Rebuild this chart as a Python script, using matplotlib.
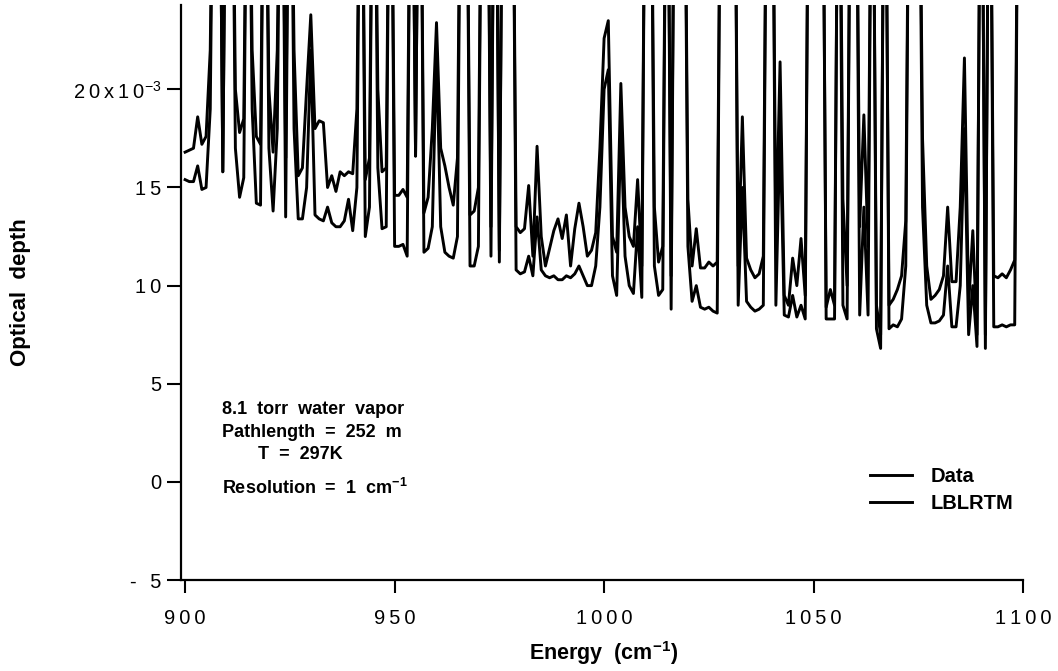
import numpy as np
import matplotlib
matplotlib.use("Agg")
import matplotlib.pyplot as plt

plt.rcParams["font.family"] = ["Liberation Sans", "DejaVu Sans"]
plt.rcParams["mathtext.fontset"] = "custom"
plt.rcParams["mathtext.rm"] = "Liberation Sans"
plt.rcParams["mathtext.bf"] = "Liberation Sans:bold"

# off-scale (saturated) lines run past the top of the plot
S = 40.0

energy = np.arange(900, 1101)  # cm-1, 1 cm-1 steps

# optical depth (x 1e-3), upper trace
data = [
    16.8, 16.9, 17.0, 18.6, 17.2, 17.6, 22.0, S, S, 15.8,
    S, S, 20.0, 17.8, 18.5, S, 22.0, 17.6, 17.2, S,
    20.0, 16.8, 22.0, S, 16.5, S, 22.0, 15.6, 16.0, 20.0,
    23.8, 18.0, 18.4, 18.3, 15.0, 15.6, 14.8, 15.8, 15.6, 15.8,
    15.7, 19.0, S, 15.4, 16.5, S, 20.0, 15.8, 16.0, S,
    14.6, 14.6, 14.9, 14.5, S, 16.6, S, 13.7, 14.5, 18.0,
    23.4, 17.0, 16.1, 15.0, 14.1, 16.5, S, S, 13.6, 13.8,
    15.0, S, S, 13.0, S, 11.8, S, S, S, 13.0,
    12.7, 12.9, 15.1, 11.5, 17.1, 12.5, 11.0, 11.9, 12.8, 13.4,
    12.4, 13.6, 11.0, 12.9, 14.2, 13.0, 11.5, 11.8, 12.7, 17.0,
    22.6, 23.5, 12.5, 11.7, 20.3, 14.0, 12.5, 12.0, 15.4, 11.0,
    S, S, 14.0, 11.2, 12.0, S, 10.5, S, S, S,
    14.4, 11.0, 12.9, 10.9, 10.9, 11.2, 11.0, 11.2, S, S,
    S, S, 11.0, 18.6, 11.4, 10.8, 10.4, 10.6, 11.5, S,
    S, 12.0, 21.4, 9.5, 9.0, 11.4, 10.0, 12.4, 9.5, S,
    S, S, S, 8.9, 9.8, 9.0, S, 14.4, 10.0, S,
    S, 13.0, 18.7, 12.0, S, 9.0, 7.5, S, 9.0, 9.3,
    9.8, 10.5, 13.3, S, S, S, 17.5, 11.0, 9.3, 9.5,
    9.8, 10.5, 14.0, 10.2, 10.2, 14.0, 21.6, 9.0, 12.8, 7.5,
    S, 7.5, S, 10.5, 10.4, 10.6, 10.4, 10.8, 11.3, S,
    S,
]

# lower trace
lblrtm = [
    15.4, 15.3, 15.3, 16.1, 14.9, 15.0, 19.0, S, S, 15.8,
    S, S, 17.0, 14.5, 15.5, S, 19.0, 14.2, 14.1, S,
    17.0, 13.8, 18.0, S, 13.5, S, 18.0, 13.4, 13.4, 15.0,
    22.0, 13.6, 13.4, 13.3, 14.0, 13.2, 13.0, 13.0, 13.3, 14.4,
    12.8, 15.0, S, 12.5, 14.0, S, 16.0, 12.9, 13.0, S,
    12.0, 12.0, 12.1, 11.5, S, 16.6, S, 11.7, 11.9, 13.0,
    22.0, 13.0, 11.7, 11.5, 11.4, 12.5, S, S, 11.0, 11.0,
    12.0, S, S, 11.5, S, 11.2, S, S, S, 10.8,
    10.6, 10.7, 11.5, 10.5, 13.5, 10.8, 10.5, 10.4, 10.5, 10.3,
    10.3, 10.5, 10.4, 10.6, 11.0, 10.5, 10.0, 10.0, 11.0, 14.0,
    20.0, 21.0, 10.5, 9.5, 18.0, 11.5, 10.0, 9.6, 13.0, 9.4,
    S, S, 11.0, 9.5, 9.8, S, 8.8, S, S, S,
    12.0, 9.2, 10.0, 8.9, 8.8, 8.9, 8.7, 8.6, S, S,
    S, S, 9.0, 15.0, 9.2, 8.9, 8.7, 8.8, 9.0, S,
    S, 9.0, 18.0, 8.5, 8.4, 9.5, 8.4, 9.0, 8.3, S,
    S, S, S, 8.3, 8.3, 8.3, S, 9.0, 8.3, S,
    S, 8.5, 14.0, 8.5, S, 7.8, 6.8, S, 7.8, 8.0,
    7.9, 8.3, 11.0, S, S, S, 14.0, 9.0, 8.1, 8.1,
    8.2, 8.5, 11.0, 7.9, 7.9, 10.0, 18.0, 7.5, 10.0, 6.9,
    S, 6.8, S, 7.9, 7.9, 8.0, 7.9, 8.0, 8.0, S,
    S,
]

xticks = [900, 950, 1000, 1050, 1100]
xtick_labels = ["900", "950", "1000", "1050", "1100"]
yticks = [-5, 0, 5, 10, 15, 20]
ytick_labels = ["- 5", "0", "5", "10", "15", "20x10$^{-3}$"]

notes = ["8.1  torr  water  vapor", "Pathlength  =  252  m", "T  =  297K"]

TS = "\u2009"  # thin space, the scan has wide letter spacing


def spaced(s):
    # keep mathtext parts intact, spread the plain digits a little
    if "$" in s:
        head, rest = s.split("$", 1)
        return TS.join(head) + "$" + rest
    return TS.join(s)


def main():
    fig = plt.figure(figsize=(10.58, 6.71), dpi=100)
    ax = fig.add_axes([0.171, 0.1356, 0.796, 0.857])

    ax.plot(energy, data, color="black", lw=2.1, label="Data")
    ax.plot(energy, lblrtm, color="black", lw=2.1, label="LBLRTM")

    ax.set_xlim(899, 1100)
    ax.set_ylim(-5, 24.3)

    ax.spines["top"].set_visible(False)
    ax.spines["right"].set_visible(False)
    ax.spines["left"].set_linewidth(1.6)
    ax.spines["bottom"].set_linewidth(1.6)

    ax.set_xticks(xticks)
    ax.set_xticklabels([spaced(t) for t in xtick_labels])
    ax.set_yticks(yticks)
    ax.set_yticklabels([spaced(t) for t in ytick_labels])
    ax.tick_params(axis="y", direction="out", length=10, width=1.5, labelsize=14.5, pad=4)
    ax.tick_params(axis="x", direction="out", length=9, width=1.5, labelsize=14.5, pad=12)

    fig.text(0.019, 1 - 292 / 671, "Optical  depth", rotation=90, fontsize=16,
             fontweight="bold", ha="center", va="center")
    fig.text(0.570, 1 - 653 / 671, r"Energy  (cm$^{\mathbf{-1}}$)", fontsize=15.5,
             fontweight="bold", ha="center", va="center")

    ax.text(0.0487, 0.2957, notes[0], transform=ax.transAxes, fontsize=13,
            fontweight="bold", va="center")
    ax.text(0.0487, 0.2557, notes[1], transform=ax.transAxes, fontsize=13,
            fontweight="bold", va="center")
    ax.text(0.0914, 0.2174, notes[2], transform=ax.transAxes, fontsize=13,
            fontweight="bold", va="center")
    ax.text(0.0487, 0.160, r"Resolution  =  1  cm$^{\mathbf{-1}}$", transform=ax.transAxes,
            fontsize=13, fontweight="bold", va="center")

    ax.legend(loc="upper left", bbox_to_anchor=(0.818, 0.197), frameon=False,
              borderpad=0, borderaxespad=0, handlelength=2.1,
              handletextpad=0.9, labelspacing=0.4,
              prop={"weight": "bold", "size": 14.5})

    fig.savefig("out.png", dpi=100)


if __name__ == "__main__":
    main()
